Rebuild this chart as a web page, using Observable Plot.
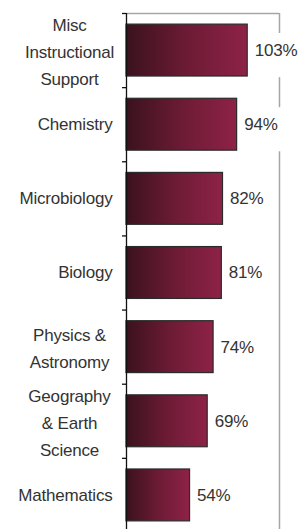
<!DOCTYPE html>
<html>
<head>
<meta charset="utf-8">
<script src="https://cdn.jsdelivr.net/npm/d3@7"></script>
<script src="https://cdn.jsdelivr.net/npm/@observablehq/plot@0.6"></script>
<style>
  html, body { margin: 0; padding: 0; background: #fff; }
  #chart svg { display: block; }
</style>
</head>
<body>
<div id="chart"></div>
<script>
const categories = [
  "Misc\nInstructional\nSupport",
  "Chemistry",
  "Microbiology",
  "Biology",
  "Physics &\nAstronomy",
  "Geography\n& Earth\nScience",
  "Mathematics"
];
const values = [103, 94, 82, 81, 74, 69, 54];
const bandTicks = [0, 1, 2, 3, 4, 5, 6, 7];

const data = categories.map((c, i) => ({category: c, value: values[i], index: i, multi: c.includes("\n")}));

const font = "'Liberation Sans', Arial, sans-serif";

const chart = Plot.plot({
  width: 305,
  height: 529,
  marginLeft: 126,
  marginRight: 26,
  marginTop: 13,
  marginBottom: -3,
  style: {fontFamily: font, background: "#fff", overflow: "visible"},
  x: {domain: [0, 130], axis: null},
  y: {domain: [0, 7], reverse: true},
  marks: [
    Plot.ruleY([0], {x1: 0, x2: 130, stroke: "#a6a6a6", strokeWidth: 1.5}),
    Plot.ruleX([130], {y1: 0, y2: 7, stroke: "#a6a6a6", strokeWidth: 1.5}),
    Plot.rectX(data, {x1: "value", x2: d => d.value + 45, y1: "index", y2: d => d.index + 1, insetTop: 20, insetBottom: 10, fill: "#fff"}),
    Plot.rectX(data, {x1: 0, x2: "value", y1: d => d.index + 0.15, y2: d => d.index + 0.85, fill: "url(#barGrad)", stroke: "#2b2b2b", strokeWidth: 1.2}),
    Plot.ruleX([0], {y1: 0, y2: 7, stroke: "#111", strokeWidth: 1.3}),
    Plot.axisY({ticks: bandTicks, tickSize: 4, tickFormat: () => "", stroke: "#111", strokeWidth: 1.3, label: null}),
    Plot.text(data, {x: "value", y: d => d.index + 0.5, text: d => d.value + "%", textAnchor: "start", dx: 7, fontSize: 17, fill: "#333", fontFamily: font}),
    Plot.text(data.filter(d => !d.multi), {x: 0, y: d => d.index + 0.5, text: "category", textAnchor: "end", dx: -14, fontSize: 17, fill: "#333", fontFamily: font}),
    Plot.text(data.filter(d => d.multi), {x: 0, y: d => d.index + 0.5, text: "category", textAnchor: "middle", dx: -57, dy: -1, fontSize: 17, lineHeight: 1.6, fill: "#333", fontFamily: font})
  ]
});

const svg = d3.select(chart);
const defs = svg.insert("defs", ":first-child");
const grad = defs.append("linearGradient").attr("id", "barGrad").attr("x1", "0").attr("x2", "1").attr("y1", "0").attr("y2", "0");
grad.append("stop").attr("offset", "0").attr("stop-color", "#3a121d");
grad.append("stop").attr("offset", "0.5").attr("stop-color", "#6c1b35");
grad.append("stop").attr("offset", "1").attr("stop-color", "#8e2247");
svg.selectAll("text").style("letter-spacing", "-0.2px");

document.getElementById("chart").appendChild(chart);
</script>
</body>
</html>
